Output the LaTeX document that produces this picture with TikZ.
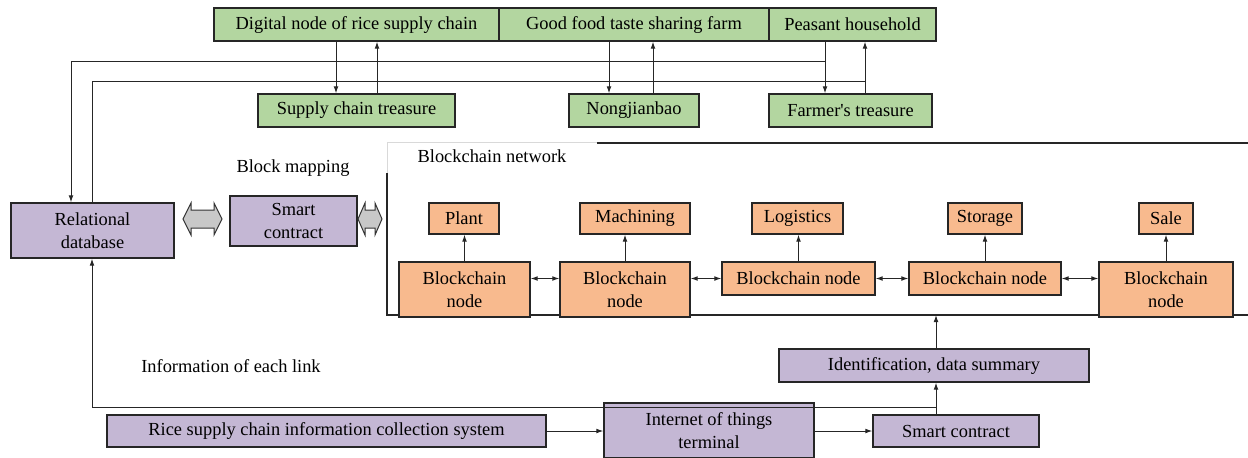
\documentclass[tikz,border=0pt]{standalone}
\usepackage{fontspec}
\setmainfont{Liberation Serif}
\usetikzlibrary{arrows.meta}
\definecolor{boxgreen}{RGB}{179,214,160}
\definecolor{boxorange}{RGB}{248,186,142}
\definecolor{boxpurple}{RGB}{196,183,212}
\definecolor{shaftgray}{RGB}{200,200,200}
\begin{document}
\begin{tikzpicture}[x=0.5pt,y=-0.5pt,
  font=\fontsize{9.2}{11.5}\selectfont,
  box/.style={draw=black!85, line width=0.65pt, inner sep=0pt, align=center},
  gbox/.style={box, fill=boxgreen},
  obox/.style={box, fill=boxorange},
  pbox/.style={box, fill=boxpurple},
  link/.style={line width=0.5pt, draw=black!85},
  arr/.style={link, -{Latex[length=3.5pt,width=2.4pt]}},
  darr/.style={link, {Latex[length=3.5pt,width=2.4pt]}-{Latex[length=3.5pt,width=2.4pt]}},
  fatarrow/.style={fill=shaftgray, draw=black!80, line width=0.5pt, line join=miter}]
\useasboundingbox (0,0) rectangle (1248,457);

% guide coordinates for the vertical and horizontal runs
\coordinate (cA) at (336,0);  \coordinate (cB) at (377,0);
\coordinate (cC) at (609,0);  \coordinate (cD) at (653,0);
\coordinate (cE) at (825,0);  \coordinate (cF) at (865,0);
\coordinate (cL1) at (71,0);  \coordinate (cL2) at (92,0);
\coordinate (cJ) at (936,0);
\coordinate (r1) at (0,61);   \coordinate (r2) at (0,81);
\coordinate (rb) at (0,407);  \coordinate (fb) at (0,315);

% blockchain network frame
\draw[black!15, line width=0.5pt] (387,173) -- (387,142) -- (597,142);
\draw[link, line width=0.6pt] (597,143) -- (1250,143);
\draw[link, line width=0.6pt] (387,173) -- (387,315) -- (1250,315);
\node (bnet) at (492,156) {Blockchain network};

% top participants
\node[gbox, minimum width=142.5pt, minimum height=16.5pt] (dig)  at (356.5,24.5) {Digital node of rice supply chain};
\node[gbox, minimum width=135pt,   minimum height=16.5pt] (good) at (634,24.5)   {Good food taste sharing farm};
\node[gbox, minimum width=83.5pt,  minimum height=16.5pt] (peas) at (852.5,24.5) {Peasant household};
\node[gbox, minimum width=98.5pt,  minimum height=16.5pt] (sct)  at (356.5,110.5) {Supply chain treasure};
\node[gbox, minimum width=65pt,    minimum height=16.5pt] (nong) at (634,110.5)   {Nongjianbao};
\node[gbox, minimum width=81.5pt,  minimum height=16.5pt] (farm) at (850.5,110.5) {Farmer\textquotesingle s treasure};

% database and mapping contract
\node[pbox, minimum width=81.5pt, minimum height=27.5pt] (rel) at (92.5,230.5) {Relational\\database};
\node[pbox, minimum width=63.5pt, minimum height=25pt] (sc1) at (293.5,221) {Smart\\contract};
\node (bmap) at (293,168) {Block mapping};

\draw[fatarrow] (183,219) -- (191,203) -- (191,210) -- (214,210) -- (214,203) -- (222,219)
  -- (214,235) -- (214,228) -- (191,228) -- (191,235) -- cycle;
\draw[fatarrow] (358,219) -- (365,203) -- (365,210) -- (375,210) -- (375,203) -- (382,219)
  -- (375,235) -- (375,228) -- (365,228) -- (365,235) -- cycle;

% blockchain links
\node[obox, minimum width=35pt,   minimum height=15.5pt] (plant) at (464,218.5)  {Plant};
\node[obox, minimum width=55pt,   minimum height=15.5pt] (mach)  at (635,218.5)  {Machining};
\node[obox, minimum width=45.5pt, minimum height=15.5pt] (logi)  at (797.5,218.5) {Logistics};
\node[obox, minimum width=37pt,   minimum height=15.5pt] (stor)  at (985,218.5)  {Storage};
\node[obox, minimum width=27pt,   minimum height=15.5pt] (sale)  at (1166,218.5) {Sale};

\node[obox, minimum width=65.5pt, minimum height=27.5pt] (bn1) at (464.5,289.5) {Blockchain\\node};
\node[obox, minimum width=65pt,   minimum height=27.5pt] (bn2) at (625,289.5)   {Blockchain\\node};
\node[obox, minimum width=76.5pt, minimum height=16.5pt] (bn3) at (798.5,278.5) {Blockchain node};
\node[obox, minimum width=76pt,   minimum height=16.5pt] (bn4) at (985,278.5)   {Blockchain node};
\node[obox, minimum width=67pt,   minimum height=27.5pt] (bn5) at (1166,289.5)  {Blockchain\\node};

\foreach \n/\t in {bn1/plant, bn2/mach, bn3/logi, bn4/stor, bn5/sale}
  \draw[arr] (\n.north) -- (\n.north |- \t.south);
\draw[darr] (bn1.east |- bn3.center) -- (bn2.west |- bn3.center);
\draw[darr] (bn2.east |- bn3.center) -- (bn3.west);
\draw[darr] (bn3.east) -- (bn4.west);
\draw[darr] (bn4.east) -- (bn5.west |- bn4.center);

% data collection chain
\node[pbox, minimum width=155pt,   minimum height=16.5pt] (ident) at (934,365.5) {Identification, data summary};
\node[pbox, minimum width=219.5pt, minimum height=16pt]   (rice)  at (326.5,431) {Rice supply chain information collection system};
\node[pbox, minimum width=105pt,   minimum height=27.5pt] (iot)   at (709,430.5) {Internet of things\\terminal};
\node[pbox, minimum width=83pt,    minimum height=16pt]   (sc2)   at (956,431)   {Smart contract};
\node (info) at (231,366) {Information of each link};

\draw[arr] (rice.east) -- (iot.west |- rice.east);
\draw[arr] (iot.east |- sc2.west) -- (sc2.west);
\draw[arr] (sc2.north -| cJ) -- (ident.south -| cJ);
\draw[arr] (ident.north -| cJ) -- (cJ |- fb);
\draw[arr] (cJ |- rb) -- (cL2 |- rb) -- (rel.south -| cL2);

% exchange between participants and their platforms
\draw[arr] (dig.south -| cA)  -- (sct.north -| cA);
\draw[arr] (sct.north -| cB)  -- (dig.south -| cB);
\draw[arr] (good.south -| cC) -- (nong.north -| cC);
\draw[arr] (nong.north -| cD) -- (good.south -| cD);
\draw[arr] (peas.south -| cE) -- (farm.north -| cE);
\draw[arr] (farm.north -| cF) -- (peas.south -| cF);
\draw[arr] (cE |- r1) -- (cL1 |- r1) -- (rel.north -| cL1);
\draw[link] (rel.north -| cL2) -- (cL2 |- r2) -- (cF |- r2);
\end{tikzpicture}
\end{document}
